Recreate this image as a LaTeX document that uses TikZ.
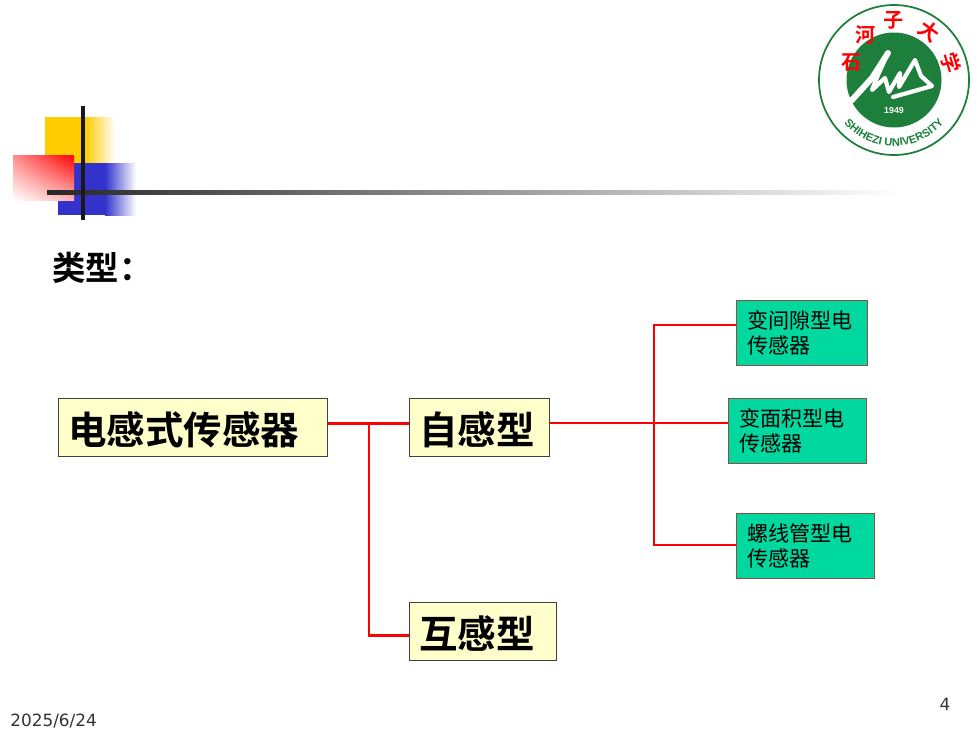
\documentclass[tikz,border=0pt]{standalone}
\usepackage{fontspec}
\usetikzlibrary{decorations.text,shadings}
\newfontfamily\cjk{Noto Sans CJK SC}
\newfontfamily\cjkbold{Noto Sans CJK SC Bold}
\newfontfamily\logofont{Liberation Sans}
\setmainfont{DejaVu Sans}
\definecolor{boxyellow}{HTML}{FFFFCC}
\definecolor{boxgreen}{HTML}{00D8A0}
\definecolor{leafedge}{HTML}{8C5040}
\definecolor{logogreen}{HTML}{1E7F3C}
\definecolor{squareyellow}{HTML}{FFCC00}
\definecolor{squareblue}{HTML}{3333CC}
\tikzset{
  mainbox/.style={draw=black!75,fill=boxyellow,anchor=north west,inner xsep=5.6pt,inner ysep=0pt,text height=26.3pt,text depth=6.6pt,align=left,font=\cjkbold\fontsize{21.9}{25}\selectfont},
  leafbox/.style={draw=leafedge,fill=boxgreen,anchor=north west,inner xsep=6.2pt,inner ysep=0pt,minimum height=36.9pt,align=left,font=\cjk\fontsize{12}{14}\selectfont},
  thickline/.style={red,line width=1.7pt},
  thinline/.style={red,line width=1.1pt},
  peak/.style={white,line width=2.4pt,line join=round,line cap=round}
}
\begin{document}
\begin{tikzpicture}[x=0.02cm,y=-0.02cm]
\useasboundingbox (0,0) rectangle (980,735);
\fill [white] (0,0) rectangle (980,735);
\fill [squareyellow] (45,117) rectangle (86,163);
\shade [left color=squareyellow,right color=white] (85,117) rectangle (115,163);
\fill [squareblue] (58,163) rectangle (106,215);
\shade [left color=squareblue,right color=white] (105,163) rectangle (136,215);
\shade [lower left=white,upper right=red,upper left=red!45!white,lower right=red!30!white] (13,155) rectangle (74,200);
\shade [left color=black!85,right color=white] (47,190) rectangle (900,194);
\fill [black!90] (81,106) rectangle (85,220);

\draw [logogreen,line width=1pt] (894,80) circle (75);
\fill [logogreen] (894,80) circle (47.5);
\draw [peak,line width=3.4pt] (851,101) -- (872,78) -- (888,53);
\draw [peak] (888,53) -- (878,75) -- (872,90) -- (885,78) -- (889,92) -- (900,73) -- (899,87) -- (915,60) -- (921,76) -- (932,86) -- (893,97);
\node (year) at (894,110) {\color{white}\logofont\fontsize{5}{5}\bfseries 1949};
\foreach \ch/\ang/\name in {石/-68/a,河/-35/b,子/0/c,大/36/d,学/73/e}
  \node (top\name) at ({894+60*sin(\ang)},{80-60*cos(\ang)}) [inner sep=0pt] {\color{red}\cjkbold\fontsize{11.5}{11.5}\selectfont\rotatebox{-\ang}{\ch}};
\path [decorate,decoration={text along path,text align=center,text={|\logofont\fontsize{6.3}{7}\bfseries\color{logogreen}|SHIHEZI UNIVERSITY}}] (836.8,113) arc (150:30:66);

\node (title) at (52,252) [anchor=north west,inner sep=0pt,font=\cjkbold\fontsize{19}{22}\selectfont] {类型：};

\node (sensor) at (58,398) [mainbox,text width=141.8pt] {电感式传感器};
\node (selfind) at (409,398) [mainbox,text width=68.2pt] {自感型};
\node (mutual) at (409,602) [mainbox,text width=72.7pt] {互感型};
\node (gap) at (736,300) [leafbox,text width=61.9pt] {变间隙型电\\传感器};
\node (area) at (728,398) [leafbox,text width=66.4pt] {变面积型电\\传感器};
\node (coil) at (736,513) [leafbox,text width=66.4pt] {螺线管型电\\传感器};

\coordinate (rootjoint) at (369,423);
\coordinate (leafjoint) at (654,423);
\coordinate (mutualin) at (409,635);
\draw [thickline] (sensor.east |- rootjoint) -- (selfind.west |- rootjoint);
\draw [thickline] (rootjoint) -- (rootjoint |- mutualin) -- (mutual.west |- mutualin);
\draw [thinline] (selfind.east |- leafjoint) -- (area.west |- leafjoint);
\coordinate (gapin) at (736,325);
\coordinate (coilin) at (736,545);
\draw [thinline] (gap.west |- gapin) -- (leafjoint |- gapin) -- (leafjoint |- coilin) -- (coil.west |- coilin);

\node (date) at (10,721) [anchor=west,inner sep=0pt,font=\fontsize{9.6}{11}\selectfont,text=black!80] {2025/6/24};
\node (page) at (945,704) [inner sep=0pt,font=\fontsize{9.6}{11}\selectfont,text=black!80] {4};
\end{tikzpicture}
\end{document}
